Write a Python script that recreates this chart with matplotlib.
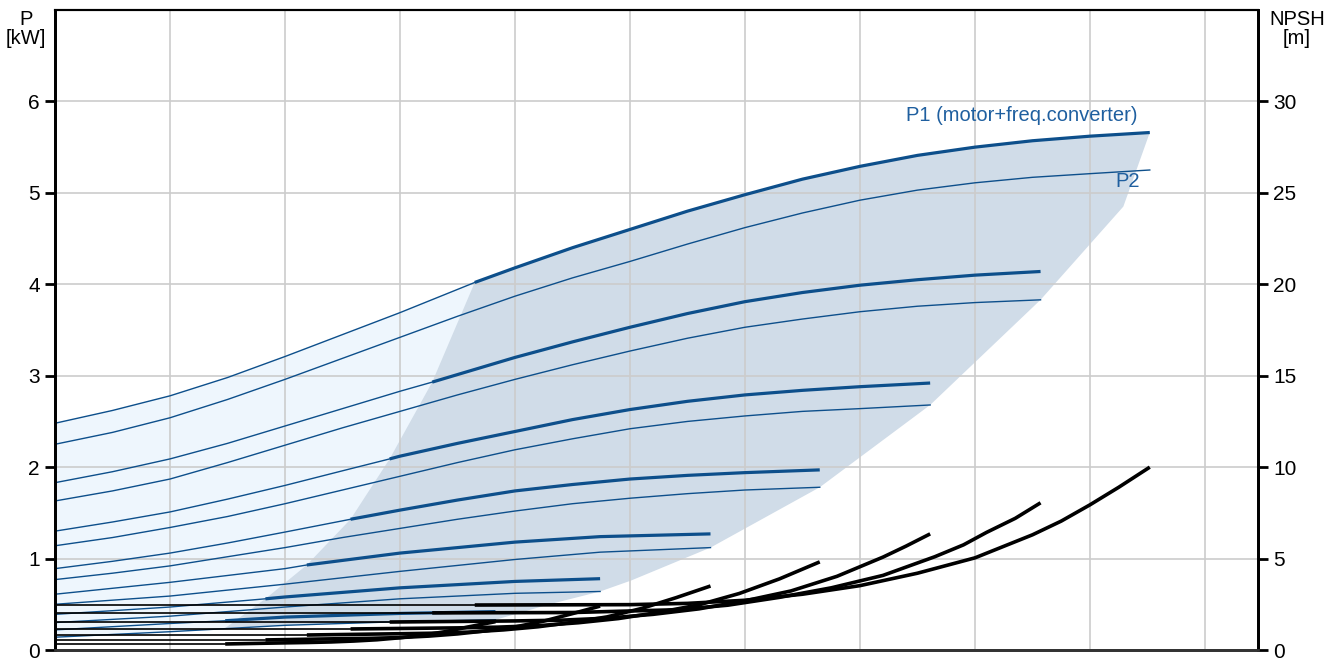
import matplotlib
matplotlib.use("Agg")
import matplotlib.pyplot as plt
from matplotlib.patches import Polygon

plt.rcParams['font.family'] = ['Liberation Sans', 'DejaVu Sans']

# flow axis has no labels: x is measured in grid cells (10 cells + a bit)
# speeds 1..7, highest first
P1_U = [
    [0, 0.5, 1, 1.5, 2, 2.5, 3, 3.65, 4, 4.5, 5, 5.5, 6, 6.5, 7, 7.5, 8, 8.5, 9, 9.52],
    [0, 0.5, 1, 1.5, 2, 2.5, 3, 3.28, 4, 4.5, 5, 5.5, 6, 6.5, 7, 7.5, 8, 8.57],
    [0, 0.5, 1, 1.5, 2, 2.5, 2.91, 3, 3.5, 4, 4.5, 5, 5.5, 6, 6.5, 7, 7.61],
    [0, 0.5, 1, 1.5, 2, 2.57, 3, 3.5, 4, 4.5, 5, 5.5, 6, 6.65],
    [0, 1, 2, 2.19, 3, 4, 4.74, 5.70],
    [0, 1, 1.83, 2, 3, 4, 4.74],
    [0, 1, 1.48, 2, 3, 3.83],
]
P1_KW = [
    [2.48, 2.62, 2.78, 2.98, 3.21, 3.45, 3.69, 4.02, 4.18, 4.40, 4.60, 4.80, 4.98,
     5.15, 5.29, 5.41, 5.50, 5.57, 5.62, 5.66],
    [1.83, 1.95, 2.09, 2.26, 2.45, 2.64, 2.83, 2.93, 3.20, 3.37, 3.53, 3.68, 3.81,
     3.91, 3.99, 4.05, 4.10, 4.14],
    [1.30, 1.40, 1.51, 1.65, 1.80, 1.96, 2.09, 2.12, 2.26, 2.39, 2.52, 2.63, 2.72,
     2.79, 2.84, 2.88, 2.92],
    [0.89, 0.97, 1.06, 1.17, 1.29, 1.43, 1.53, 1.64, 1.74, 1.81, 1.87, 1.91, 1.94, 1.97],
    [0.61, 0.74, 0.89, 0.93, 1.06, 1.18, 1.24, 1.27],
    [0.39, 0.47, 0.56, 0.58, 0.68, 0.75, 0.78],
    [0.22, 0.29, 0.32, 0.36, 0.40, 0.42],
]
# where the thick (operating) part of each speed starts
U_MIN = [3.65, 3.28, 2.91, 2.57, 2.19, 1.83, 1.48]

P2_U = [
    [0, 0.5, 1, 1.5, 2, 2.5, 3, 3.5, 4, 4.5, 5, 5.5, 6, 6.5, 7, 7.5, 8, 8.5, 9, 9.52],
    [0, 0.5, 1, 1.5, 2, 2.5, 3, 3.5, 4, 4.5, 5, 5.5, 6, 6.5, 7, 7.5, 8, 8.57],
    [0, 0.5, 1, 1.5, 2, 2.5, 3, 3.5, 4, 4.5, 5, 5.5, 6, 6.5, 7, 7.61],
    [0, 0.5, 1, 1.5, 2, 2.5, 3, 3.5, 4, 4.5, 5, 5.5, 6, 6.65],
    [0, 1, 2, 3, 4, 4.74, 5.70],
    [0, 1, 2, 3, 4, 4.74],
    [0, 1, 2, 3, 3.83],
]
P2_KW = [
    [2.25, 2.38, 2.54, 2.74, 2.96, 3.19, 3.42, 3.65, 3.87, 4.07, 4.25, 4.44, 4.62,
     4.78, 4.92, 5.03, 5.11, 5.17, 5.21, 5.25],
    [1.63, 1.74, 1.87, 2.05, 2.24, 2.43, 2.61, 2.79, 2.96, 3.12, 3.27, 3.41, 3.53,
     3.62, 3.70, 3.76, 3.80, 3.83],
    [1.14, 1.23, 1.34, 1.46, 1.60, 1.75, 1.90, 2.05, 2.19, 2.31, 2.42, 2.50, 2.56,
     2.61, 2.64, 2.68],
    [0.77, 0.84, 0.92, 1.02, 1.12, 1.23, 1.33, 1.43, 1.52, 1.60, 1.66, 1.71, 1.75, 1.78],
    [0.50, 0.59, 0.72, 0.86, 0.99, 1.07, 1.12],
    [0.30, 0.37, 0.47, 0.56, 0.62, 0.64],
    [0.14, 0.20, 0.27, 0.31, 0.33],
]

NPSH_U = [
    [0, 3.65, 5, 5.5, 6, 6.5, 7, 7.5, 8, 8.5, 8.75, 9, 9.25, 9.52],
    [0, 3.28, 4.5, 5.4, 5.85, 6.3, 6.75, 7.2, 7.65, 7.9, 8.1, 8.35, 8.57],
    [0, 2.91, 4.0, 4.4, 4.8, 5.2, 5.6, 6.0, 6.4, 6.8, 7.2, 7.4, 7.61],
    [0, 2.57, 3.5, 3.85, 4.2, 4.55, 4.9, 5.25, 5.6, 5.95, 6.3, 6.65],
    [0, 2.19, 3.0, 3.3, 3.6, 3.9, 4.2, 4.5, 4.8, 5.1, 5.4, 5.70],
    [0, 1.83, 2.5, 2.75, 3.0, 3.25, 3.5, 3.75, 4.0, 4.25, 4.5, 4.74],
    [0, 1.48, 2.0, 2.2, 2.4, 2.6, 2.8, 3.0, 3.2, 3.4, 3.6, 3.83],
]
NPSH_M = [
    [2.46, 2.46, 2.48, 2.55, 2.72, 3.05, 3.52, 4.2, 5.04, 6.3, 7.05, 7.94, 8.9, 10.0],
    [2.03, 2.03, 2.05, 2.2, 2.45, 2.88, 3.4, 4.08, 5.1, 5.75, 6.43, 7.2, 8.05],
    [1.53, 1.53, 1.59, 1.63, 1.74, 1.95, 2.25, 2.69, 3.23, 4.03, 5.08, 5.68, 6.35],
    [1.15, 1.15, 1.21, 1.25, 1.33, 1.49, 1.72, 2.06, 2.47, 3.09, 3.89, 4.82],
    [0.82, 0.82, 0.89, 0.92, 0.98, 1.10, 1.27, 1.51, 1.81, 2.27, 2.86, 3.5],
    [0.55, 0.55, 0.62, 0.64, 0.68, 0.76, 0.88, 1.05, 1.26, 1.58, 1.99, 2.4],
    [0.33, 0.33, 0.39, 0.41, 0.44, 0.49, 0.56, 0.67, 0.81, 1.01, 1.27, 1.55],
]

# operating area: right edge and bottom/left edge (top follows speed 1 P1)
EDGE_RIGHT_U = [9.52, 9.29, 8.57, 7.61, 6.65, 5.70, 5.01, 4.74, 4.30, 3.83]
EDGE_RIGHT_KW = [5.66, 4.85, 3.83, 2.68, 1.78, 1.12, 0.76, 0.64, 0.50, 0.33]
EDGE_LEFT_U = [3.0, 2.0, 1.48, 1.83, 2.19, 2.57, 2.91, 3.28]
EDGE_LEFT_KW = [0.31, 0.27, 0.24, 0.56, 0.93, 1.43, 2.09, 2.93]

BLUE = '#0d4f8b'
TXT_BLUE = '#1f5f9f'

fig = plt.figure(figsize=(13.4, 6.59), dpi=100)
ax = fig.add_axes([55/1340, 9/659, 1203/1340, 640/659])
ax.set_xlim(0, 1203/115)
ax.set_ylim(0, 7)

# light area left of the operating range
top_u = [u for u in P1_U[0] if u <= U_MIN[0]]
top_p = P1_KW[0][:len(top_u)]
bot_u = [u for u in P2_U[6] if u <= U_MIN[0]]
bot_p = P2_KW[6][:len(bot_u)]
light = list(zip(top_u, top_p)) + [(U_MIN[0], 0.32)] + list(zip(bot_u, bot_p))[::-1]
ax.add_patch(Polygon(light, closed=True, fc='#eef6fd', ec='none', zorder=0.2))

# dark operating area
top_op = [(u, p) for u, p in zip(P1_U[0], P1_KW[0]) if u >= U_MIN[0]]
dark = top_op + list(zip(EDGE_RIGHT_U, EDGE_RIGHT_KW))[1:] + list(zip(EDGE_LEFT_U, EDGE_LEFT_KW))
ax.add_patch(Polygon(dark, closed=True, fc='#d0dce8', ec='none', zorder=0.3))

for i in range(len(P1_U)):
    u1, p1 = P1_U[i], P1_KW[i]
    k = u1.index(U_MIN[i])
    ax.plot(u1[:k+1], p1[:k+1], color=BLUE, lw=1.0, zorder=2)
    ax.plot(u1[k:], p1[k:], color=BLUE, lw=2.3, zorder=2, solid_capstyle='butt')
    ax.plot(P2_U[i], P2_KW[i], color=BLUE, lw=1.0, zorder=2)

ax.text(9.41, 5.85, 'P1 (motor+freq.converter)', color=TXT_BLUE, fontsize=14.5,
        ha='right', va='center')
ax.text(9.33, 5.12, 'P2', color=TXT_BLUE, fontsize=14.5, ha='center', va='center')

ax.set_xticks(range(1, 11))
ax.set_yticks(range(0, 7))
ax.tick_params(axis='x', length=0, labelbottom=False)
ax.tick_params(axis='y', length=7, width=2, labelsize=15, pad=4)
ax.set_axisbelow(True)
ax.grid(True, color='#cccccc', lw=1.2)

ax2 = ax.twinx()
ax2.set_ylim(0, 35)
ax2.set_yticks(range(0, 31, 5))
ax2.tick_params(axis='y', length=7, width=2, labelsize=15, pad=4)
for i in range(len(NPSH_U)):
    u, m = NPSH_U[i], NPSH_M[i]
    ax2.plot(u[:2], m[:2], color='black', lw=1.2, zorder=3)
    ax2.plot(u[1:], m[1:], color='black', lw=2.6, zorder=3, solid_capstyle='butt')

for a in (ax, ax2):
    a.spines['left'].set_linewidth(2)
    a.spines['right'].set_linewidth(2)
    a.spines['top'].set_linewidth(1.5)
    a.spines['bottom'].set_linewidth(2)
    a.spines['bottom'].set_color('#333333')

fig.text(26/1340, 1 - 29/659, 'P\n[kW]', ha='center', va='center', fontsize=14.5,
         linespacing=1.0)
fig.text(1297/1340, 1 - 29/659, 'NPSH\n[m]', ha='center', va='center', fontsize=14.5,
         linespacing=1.0)

fig.savefig('out.png', dpi=100)
